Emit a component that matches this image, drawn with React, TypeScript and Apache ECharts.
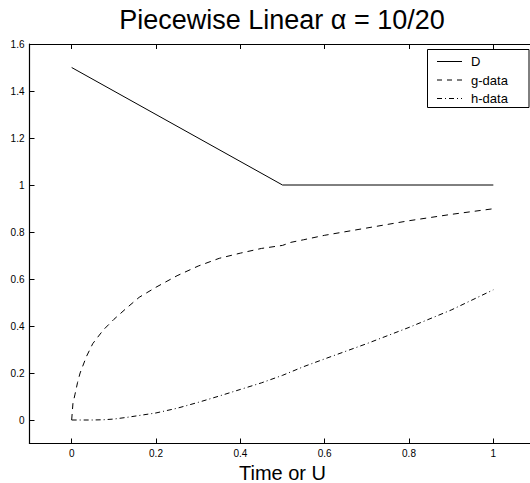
import React, { useEffect, useRef } from "react";
import * as echarts from "echarts";

const titleText = "Piecewise Linear α = 10/20";
const xAxisName = "Time or U";
const seriesNames = ["D", "g-data", "h-data"];

const xTicks = [0, 0.2, 0.4, 0.6, 0.8, 1];
const yTicks = [0, 0.2, 0.4, 0.6, 0.8, 1, 1.2, 1.4, 1.6];

const dX = [0, 0.5, 1];
const dY = [1.5, 1.0, 1.0];

const gX = [0, 0.003, 0.008, 0.014, 0.02, 0.035, 0.05, 0.075, 0.1, 0.13, 0.16, 0.2, 0.25, 0.3, 0.35, 0.4, 0.45, 0.5, 0.52, 0.55, 0.6, 0.7, 0.8, 0.9, 1.0];
const gY = [0, 0.07, 0.11, 0.16, 0.2, 0.27, 0.325, 0.383, 0.428, 0.476, 0.522, 0.565, 0.614, 0.655, 0.688, 0.71, 0.73, 0.743, 0.756, 0.767, 0.786, 0.817, 0.848, 0.875, 0.899];

const hX = [0, 0.05, 0.075, 0.1, 0.13, 0.2, 0.25, 0.3, 0.35, 0.4, 0.45, 0.5, 0.55, 0.6, 0.7, 0.8, 0.9, 1.0];
const hY = [0, 0, 0.001, 0.004, 0.011, 0.03, 0.05, 0.075, 0.102, 0.13, 0.158, 0.19, 0.227, 0.26, 0.325, 0.394, 0.468, 0.554];

const FONT = "'Liberation Sans', Arial, Helvetica, sans-serif";

function zip(xs: number[], ys: number[]) {
  return xs.map((x, i) => [x, ys[i]]);
}

export default function App() {
  const ref = useRef<HTMLDivElement>(null);
  useEffect(() => {
    document.body.style.margin = "0";
    document.body.style.overflow = "hidden";
    if (!ref.current) return;
    const chart = echarts.init(ref.current, null, { renderer: "svg", width: 530, height: 483 });
    const gridLeft = 29.5;
    const gridTop = 44;
    const gridW = 506;
    const gridH = 399.5;
    const axisLineStyle = { color: "#000", width: 1.2 };
    const lg = { x: 427.5, y: 49.5, w: 101.5, h: 58 };
    const rows = [61.5, 80, 98.5];
    const dashes: any[] = [null, [5, 5], [5, 3, 1, 3]];
    const legendChildren: any[] = [
      {
        type: "rect",
        shape: { x: lg.x, y: lg.y, width: lg.w, height: lg.h },
        style: { fill: "#fff", stroke: "#000", lineWidth: 1 },
      },
    ];
    seriesNames.forEach((name, i) => {
      legendChildren.push({
        type: "line",
        shape: { x1: 437, y1: rows[i], x2: 462, y2: rows[i] },
        style: { stroke: "#000", lineWidth: 1, lineDash: dashes[i] || undefined },
      });
      legendChildren.push({
        type: "text",
        x: 471,
        y: rows[i],
        style: {
          text: name,
          fill: "#000",
          font: `13px ${FONT}`,
          verticalAlign: "middle",
          textAlign: "left",
        },
      });
    });

    chart.setOption({
      animation: false,
      backgroundColor: "#fff",
      title: {
        text: titleText,
        left: gridLeft + gridW / 2 - 0.5,
        textAlign: "center",
        top: 6,
        padding: 0,
        textStyle: { fontFamily: FONT, fontSize: 27, fontWeight: "normal", color: "#000" },
      },
      grid: {
        left: gridLeft,
        top: gridTop,
        width: gridW,
        height: gridH,
        containLabel: false,
        outerBoundsMode: "none",
        show: false,
      },
      xAxis: [
        {
          type: "value",
          position: "bottom",
          min: -0.1,
          max: 1.1,
          name: xAxisName,
          nameLocation: "middle",
          nameGap: 16.5,
          nameTextStyle: { fontFamily: FONT, fontSize: 20, color: "#000" },
          axisLine: { show: true, onZero: false, lineStyle: axisLineStyle },
          axisTick: { show: true, inside: true, length: 5, customValues: xTicks, lineStyle: { color: "#000" } },
          axisLabel: { show: true, customValues: xTicks, margin: 4.5, fontFamily: FONT, fontSize: 10, color: "#000" },
          splitLine: { show: false },
        },
        {
          type: "value",
          position: "top",
          min: -0.1,
          max: 1.1,
          axisLine: { show: true, onZero: false, lineStyle: axisLineStyle },
          axisTick: { show: true, inside: true, length: 5, customValues: xTicks, lineStyle: { color: "#000" } },
          axisLabel: { show: false },
          splitLine: { show: false },
        },
      ],
      yAxis: [
        {
          type: "value",
          position: "left",
          min: -0.1,
          max: 1.6,
          axisLine: { show: true, onZero: false, lineStyle: axisLineStyle },
          axisTick: { show: true, inside: true, length: 5, customValues: yTicks, lineStyle: { color: "#000" } },
          axisLabel: { show: true, customValues: yTicks, margin: 5, fontFamily: FONT, fontSize: 10, color: "#000" },
          splitLine: { show: false },
        },
      ],
      series: [
        {
          name: seriesNames[0],
          type: "line",
          data: zip(dX, dY),
          showSymbol: false,
          symbol: "none",
          lineStyle: { color: "#000", width: 1, type: "solid" },
        },
        {
          name: seriesNames[1],
          type: "line",
          data: zip(gX, gY),
          showSymbol: false,
          symbol: "none",
          lineStyle: { color: "#000", width: 1, type: [6, 5] },
        },
        {
          name: seriesNames[2],
          type: "line",
          data: zip(hX, hY),
          showSymbol: false,
          symbol: "none",
          lineStyle: { color: "#000", width: 1, type: [5, 3, 1, 3] },
        },
      ],
      graphic: [{ type: "group", z: 101, children: legendChildren }],
    });
    return () => chart.dispose();
  }, []);
  return (
    <div style={{ position: "fixed", left: 0, top: 0, width: 530, height: 483, overflow: "hidden", background: "#fff" }}>
      <div ref={ref} style={{ width: 530, height: 483 }} />
    </div>
  );
}
